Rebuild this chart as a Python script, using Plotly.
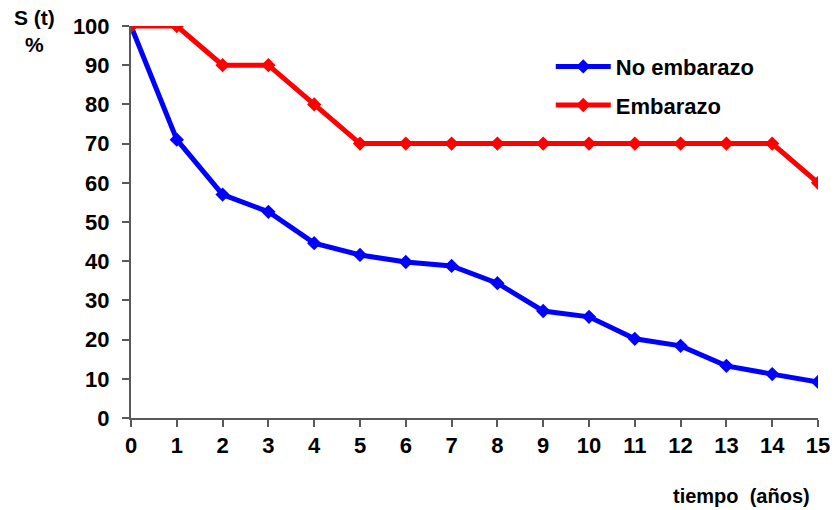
import plotly.graph_objects as go

# Survival curves S(t) in percent, by year of follow-up
years = list(range(0, 16))
no_embarazo = [100, 71, 57, 52.6, 44.6, 41.6, 39.8, 38.8, 34.4, 27.3, 25.8, 20.2, 18.4, 13.3, 11.2, 9.2]
embarazo = [100, 100, 90, 90, 80, 70, 70, 70, 70, 70, 70, 70, 70, 70, 70, 60]

FONT = "Arial, Liberation Sans, sans-serif"

fig = go.Figure()
fig.add_trace(go.Scatter(
    x=years, y=no_embarazo, name="No embarazo", mode="lines+markers",
    line=dict(color="#0000FF", width=5),
    marker=dict(symbol="diamond", size=11, color="#0000FF"),
    legendgroup="a",
))
fig.add_trace(go.Scatter(
    x=years, y=embarazo, name="Embarazo", mode="lines+markers",
    line=dict(color="#FF0000", width=5),
    marker=dict(symbol="diamond", size=11, color="#FF0000"),
    legendgroup="b",
))

axis_common = dict(
    showline=True, linecolor="#595959", linewidth=2,
    ticks="outside", ticklen=7, tickwidth=2, tickcolor="#595959",
    showgrid=False, zeroline=False, automargin=False,
    tickfont=dict(family=FONT, size=22, color="black", weight="bold"),
)

fig.update_layout(
    width=834, height=510,
    margin=dict(l=131, r=16, t=26, b=92),
    paper_bgcolor="white", plot_bgcolor="white",
    showlegend=True,
    legend=dict(
        x=0.611, y=0.95, xanchor="left", yanchor="top",
        font=dict(family=FONT, size=22, color="black", weight="bold"),
        bgcolor="rgba(0,0,0,0)", tracegroupgap=7, itemwidth=55,
    ),
    xaxis=dict(range=[0, 15], tickmode="array", tickvals=years, **axis_common),
    yaxis=dict(range=[0, 100], tickmode="array", tickvals=list(range(0, 101, 10)),
               ticklabelstandoff=8, **axis_common),
    annotations=[
        dict(text="<b>S (t)</b><br><b>%</b>", xref="paper", yref="paper",
             x=-0.14, y=1.055, xanchor="center", yanchor="top", showarrow=False,
             font=dict(family=FONT, size=21, color="black")),
        dict(text="<b>tiempo  (años)</b>", xref="paper", yref="paper",
             x=0.889, y=-0.20, xanchor="center", yanchor="middle", showarrow=False,
             font=dict(family=FONT, size=20, color="black")),
    ],
)

fig.write_html("out.html")
